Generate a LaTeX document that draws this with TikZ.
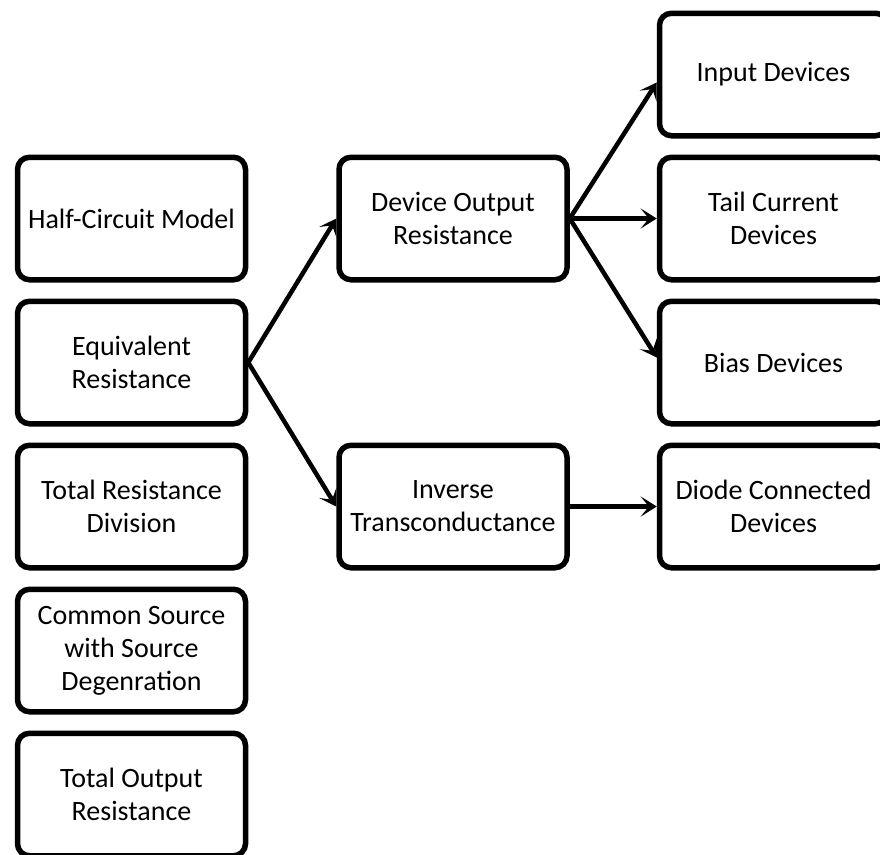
\documentclass[tikz,border=0pt]{standalone}
\usepackage{fontspec}
\setmainfont{Carlito}
\usepackage{xcolor}
\usepackage{tikz}
\usetikzlibrary{arrows.meta, positioning}
\definecolor{boxdraw}{HTML}{000000}
\definecolor{boxfill}{HTML}{FFFFFF}
\tikzset{
  blk/.style={rectangle, rounded corners=12pt, line width=5.5pt, draw=boxdraw, fill=boxfill, align=center, font=\fontsize{28}{33}\selectfont, inner sep=3pt, minimum width=228pt, minimum height=122.5pt},
  arr/.style={-{Stealth[length=16pt, width=20pt, inset=8pt]}, line width=4.5pt, draw=boxdraw},
}

\begin{document}
\begin{tikzpicture}[x=1pt, y=-1pt, node distance=16pt]
  \useasboundingbox (0,0) rectangle (880,854);
  \clip (0,0) rectangle (880,854);
  % left column
  \node[blk] (half) at (131.5,218.5) {Half-Circuit Model};
  \node[blk, below=of half] (equiv) {Equivalent\\Resistance};
  \node[blk, below=of equiv] (totdiv) {Total Resistance\\Division};
  \node[blk, below=of totdiv] (csdeg) {Common Source\\with Source\\Degenration};
  \node[blk, below=of csdeg] (totout) {Total Output\\Resistance};
  % middle column
  \node[blk, right=88pt of half] (devout) {Device Output\\Resistance};
  \node[blk, right=88pt of totdiv] (invgm) {Inverse\\Transconductance};
  % right column
  \node[blk, right=87pt of devout] (tail) {Tail Current\\Devices};
  \node[blk, above=of tail] (input) {Input Devices};
  \node[blk, below=of tail] (bias) {Bias Devices};
  \node[blk, right=87pt of invgm] (diode) {Diode Connected\\Devices};
  % connectors
  \draw[arr] (equiv.east) -- (devout.west);
  \draw[arr] (equiv.east) -- (invgm.west);
  \draw[arr] (devout.east) -- ([yshift=-8pt]input.west);
  \draw[arr] (devout.east) -- (tail.west);
  \draw[arr] (devout.east) -- ([yshift=5pt]bias.west);
  \draw[arr] (invgm.east) -- (diode.west);
\end{tikzpicture}
\end{document}
